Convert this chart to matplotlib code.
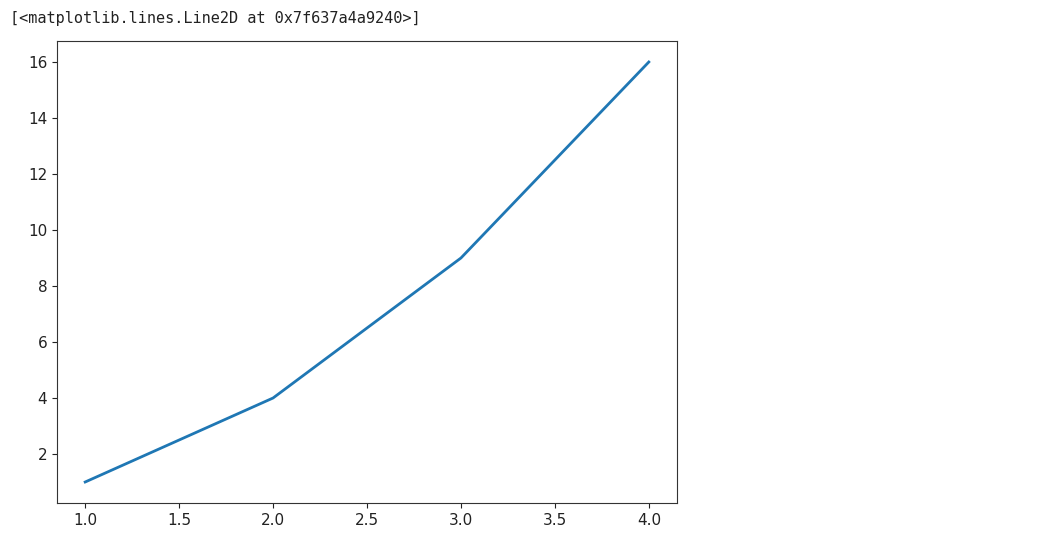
import matplotlib
matplotlib.use("Agg")
import matplotlib.pyplot as plt

x = [1, 2, 3, 4]
y = [1, 4, 9, 16]
repr_text = "[<matplotlib.lines.Line2D at 0x7f637a4a9240>]"

fig = plt.figure(figsize=(10.48, 5.44), dpi=100)
fig.patch.set_facecolor("white")

# notebook-style output line above the plot
fig.text(10 / 1048, 1 - 18 / 544, repr_text, family="DejaVu Sans Mono",
         fontsize=11, color="#222222", va="center", ha="left")

ax = fig.add_axes([57 / 1048, 1 - 503 / 544, (677 - 57) / 1048, (503 - 41) / 544])
ax.plot(x, y, color="#1f77b4", linewidth=2)
ax.tick_params(labelsize=11, colors="#222222")
for s in ax.spines.values():
    s.set_color("#333333")

fig.savefig("out.png", dpi=100)
